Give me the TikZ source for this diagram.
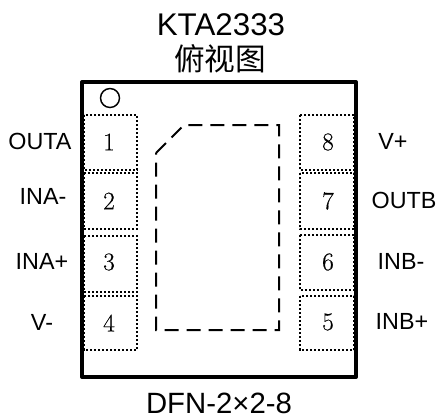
\documentclass[tikz,border=0pt]{standalone}
\usepackage{fontspec}
\setmainfont{Liberation Sans}
\newfontfamily\cjk{Noto Sans CJK SC}
\newfontfamily\numfont[FakeBold=0.4]{Latin Modern Roman}
\begin{document}
\begin{tikzpicture}[x=.75pt,y=-.75pt,
  padbox/.style={draw, line width=1.6pt, dash pattern=on 1.7pt off 1.3pt},
  padnum/.style={font=\numfont\fontsize{19}{19}\selectfont},
  pinname/.style={font=\fontsize{17.5}{17.5}\selectfont},
  titletext/.style={font=\fontsize{23.5}{23.5}\selectfont}]
\useasboundingbox (0,0) rectangle (438,418);
\node[titletext] (title) at (221,25) {KTA2333};
\node[titletext,font=\cjk\fontsize{23}{23}\selectfont] (view) at (220,59) {俯视图};
\node[titletext,font=\fontsize{22}{22}\selectfont] (package) at (219,403) {DFN-2×2-8};
% left pads
\draw[padbox] (84,115) rectangle (137,170);
\draw[padbox] (84,173) rectangle (137,229);
\draw[padbox] (84,236) rectangle (137,292);
\draw[padbox] (84,296) rectangle (137,350);
% right pads
\draw[padbox] (300,115) rectangle (354,170);
\draw[padbox] (300,173) rectangle (354,229);
\draw[padbox] (300,235) rectangle (354,290);
\draw[padbox] (300,296) rectangle (354,350);
\node[padnum] (num1) at (109,142) {1};
\node[padnum] (num2) at (109,201) {2};
\node[padnum] (num3) at (109,262) {3};
\node[padnum] (num4) at (109,323) {4};
\node[padnum] (num8) at (328,142) {8};
\node[padnum] (num7) at (328,201) {7};
\node[padnum] (num6) at (328,262) {6};
\node[padnum] (num5) at (328,322) {5};
\node[pinname] (outa) at (40,141) {OUTA};
\node[pinname] (inam) at (43,196) {INA-};
\node[pinname] (inap) at (42,261) {INA+};
\node[pinname] (vm) at (42,322) {V-};
\node[pinname] (vp) at (393,141) {V+};
\node[pinname] (outb) at (404,200) {OUTB};
\node[pinname] (inbm) at (401,261) {INB-};
\node[pinname] (inbp) at (402,321) {INB+};
% body outline
\draw[line width=3pt, line join=round] (82,82) rectangle (356,377);
\draw[line width=1.1pt] (110,98) circle (9.5);
\draw[line width=1.5pt, dash pattern=on 10.5pt off 6pt] (156,153)--(184,125)--(279,125)--(279,330)--(156,330)--cycle;
\end{tikzpicture}
\end{document}
